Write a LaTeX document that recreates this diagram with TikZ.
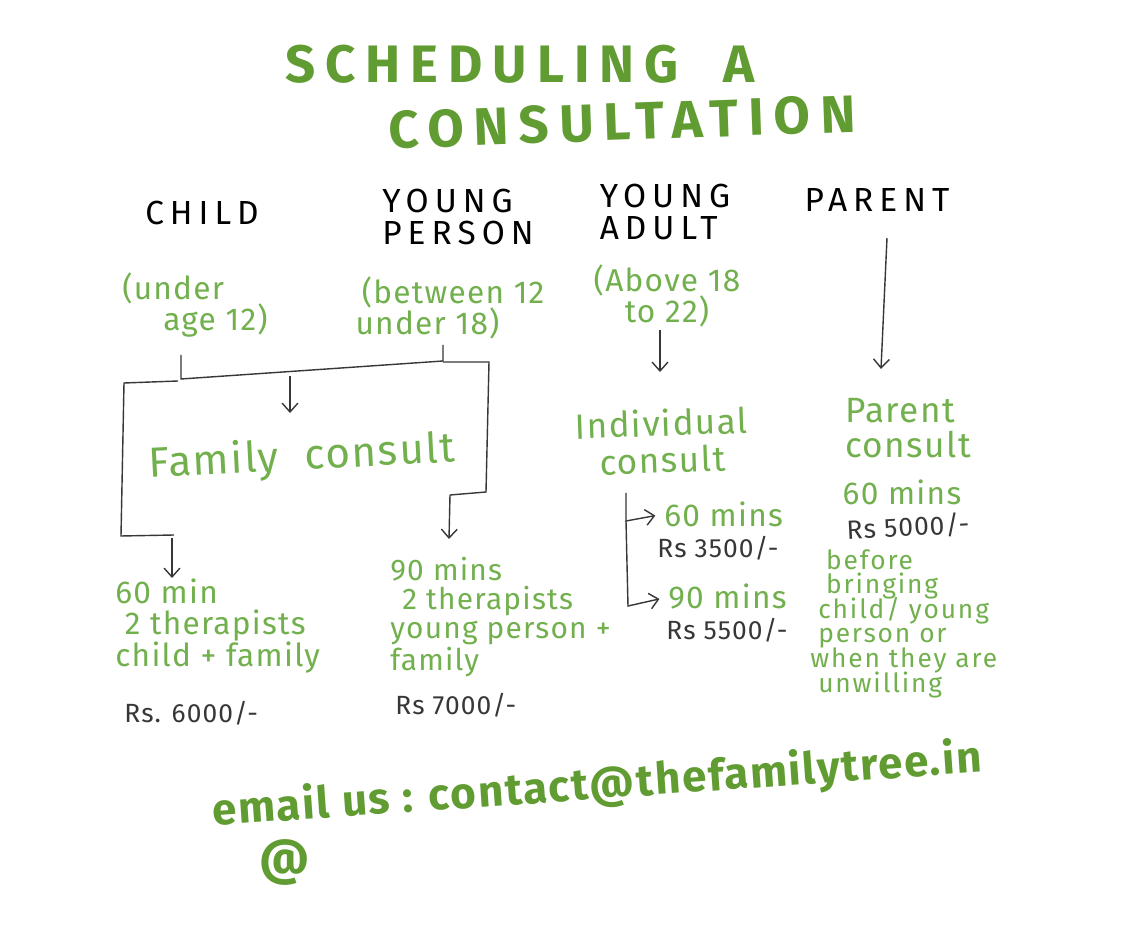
\documentclass[tikz,border=0pt]{standalone}
\usepackage{fontspec}
\setmainfont{Fira Sans}
\newfontfamily\titlefont[LetterSpace=19]{Fira Sans}
\newfontfamily\capsfont[LetterSpace=18]{Fira Sans}
\newfontfamily\handfont[LetterSpace=4]{Fira Sans}
\newfontfamily\notefont[LetterSpace=7]{Fira Sans}
\newcommand{\tightlines}{\lineskiplimit=-20pt\lineskip=0pt}
\usetikzlibrary{calc,arrows,arrows.meta,positioning}
\definecolor{leaf}{RGB}{96,156,50}
\definecolor{lightleaf}{RGB}{114,176,78}
\definecolor{pencil}{RGB}{55,55,55}

\begin{document}
\begin{tikzpicture}[x=0.02cm,y=-0.02cm]

\tikzset{titletext/.style={font=\titlefont\bfseries\fontsize{30}{32}\selectfont,text=leaf,inner sep=0pt},
headtext/.style={font=\capsfont\fontsize{19}{18}\selectfont\tightlines,text=black,inner sep=0pt,align=left},
greentext/.style={font=\handfont\fontsize{18}{18}\selectfont,text=lightleaf,inner sep=0pt,align=left},
pricetext/.style={font=\handfont\fontsize{15}{16}\selectfont,text=pencil,inner sep=0pt},
pen/.style={draw=pencil,line width=0.8pt},
arrowpen/.style={pen,-{Straight Barb[length=5pt,width=9pt]}}}

\useasboundingbox[fill=white] (0,0) rectangle (1130,952);

% Title
\node[titletext] (title1) at (520,64) {SCHEDULING \ A};
\node[titletext,rotate=2] (title2) at (622,122) {CONSULTATION};

% Who comes
\node[headtext] (child) at (202,213) {CHILD};
\node[headtext] (youngperson) at (458,217) {YOUNG\\PERSON};
\node[headtext] (youngadult) at (665,212) {YOUNG\\ADULT};
\node[headtext] (parent) at (877,200) {PARENT};

% Ages
\node[greentext] (underage) at (195,305) {(under\\\hspace*{1.3em}age 12)};
\node[greentext] (between) at (450,308) {\hspace*{0.2em}(between 12\\under 18)};
\node[greentext,align=center] (above) at (667,296) {(Above 18\\to 22)};

% Consults
\node[greentext,font=\handfont\fontsize{24}{24}\selectfont,rotate=3] (family) at (302,458) {Family \ consult};
\node[greentext,align=center,font=\handfont\fontsize{20}{21}\selectfont\tightlines,rotate=2] (individual) at (662,441) {Individual\\consult};
\node[greentext,font=\handfont\fontsize{20}{19.5}\selectfont\tightlines] (parentconsult) at (908,428) {Parent\\consult};

% Sessions
\node[greentext,anchor=north west] (fam60) at (115,578) {60 min\\\hspace*{0.3em}2 therapists\\child + family};
\node[pricetext,anchor=west] (fam60rs) at (124,713) {Rs. 6000/-};
\node[greentext,anchor=north west,font=\handfont\fontsize{17}{16.5}\selectfont] (fam90) at (390,557) {90 mins\\\hspace*{0.4em}2 therapists\\young person +\\family};
\node[pricetext,anchor=west] (fam90rs) at (395,705) {Rs 7000/-};

\node[greentext,anchor=west] (ind60) at (664,514) {60 mins};
\node[pricetext,anchor=west] (ind60rs) at (657,548) {Rs 3500/-};
\node[greentext,anchor=west] (ind90) at (668,597) {90 mins};
\node[pricetext,anchor=west] (ind90rs) at (666,630) {Rs 5500/-};

\node[greentext] (par60) at (902,492) {60 mins};
\node[pricetext,rotate=3] (par60rs) at (908,527) {Rs 5000/-};
\node[greentext,anchor=north west,font=\notefont\fontsize{15}{14}\selectfont\tightlines] (parentnote) at (810,549) {\hspace*{0.6em}before\\\hspace*{0.6em}bringing\\\hspace*{0.3em}child/ young\\\hspace*{0.3em}person or\\when they are\\\hspace*{0.3em}unwilling};

% Email
\node[titletext,font=\handfont\bfseries\fontsize{25}{25}\selectfont,rotate=4] (email) at (597,786) {email us : contact@thefamilytree.in};
\node[titletext,font=\handfont\bfseries\fontsize{28}{28}\selectfont] (emailat) at (285,862) {@};

% Lines and arrows
\coordinate (u1) at (181,355); \coordinate (u2) at (181,379);
\coordinate (b1) at (443,345); \coordinate (b2) at (443,361);
\coordinate (fa1) at (290,376); \coordinate (fa2) at (290,413);
\draw[pen] (u1) -- (u2) -- (b2) -- (b1);
\draw[arrowpen] (fa1) -- (fa2);

\coordinate (l1) at (178,381); \coordinate (l2) at (124,383);
\coordinate (l3) at (121,536); \coordinate (l4) at (174,535);
\coordinate (la1) at (172,538); \coordinate (la2) at (172,578);
\draw[pen] (l1) -- (l2) -- (l3) -- (l4);
\draw[arrowpen] (la1) -- (la2);

\coordinate (r1) at (443,362); \coordinate (r2) at (489,362);
\coordinate (r3) at (486,492); \coordinate (r4) at (450,495);
\coordinate (ra) at (449,539);
\draw[pen] (r1) -- (r2) -- (r3) -- (r4);
\draw[arrowpen] (r4) -- (ra);

\coordinate (ya1) at (660,330); \coordinate (ya2) at (660,372);
\draw[arrowpen] (ya1) -- (ya2);
\coordinate (pa1) at (887,238); \coordinate (pa2) at (881,369);
\draw[arrowpen] (pa1) -- (pa2);

\coordinate (i1) at (626,493); \coordinate (i2) at (626,521);
\coordinate (i3) at (628,606);
\draw[arrowpen,shorten >=5pt] (i1) -- (i2) -- (ind60.west);
\draw[arrowpen,shorten >=5pt] (i2) -- (i3) -- (ind90.west);

\end{tikzpicture}
\end{document}
